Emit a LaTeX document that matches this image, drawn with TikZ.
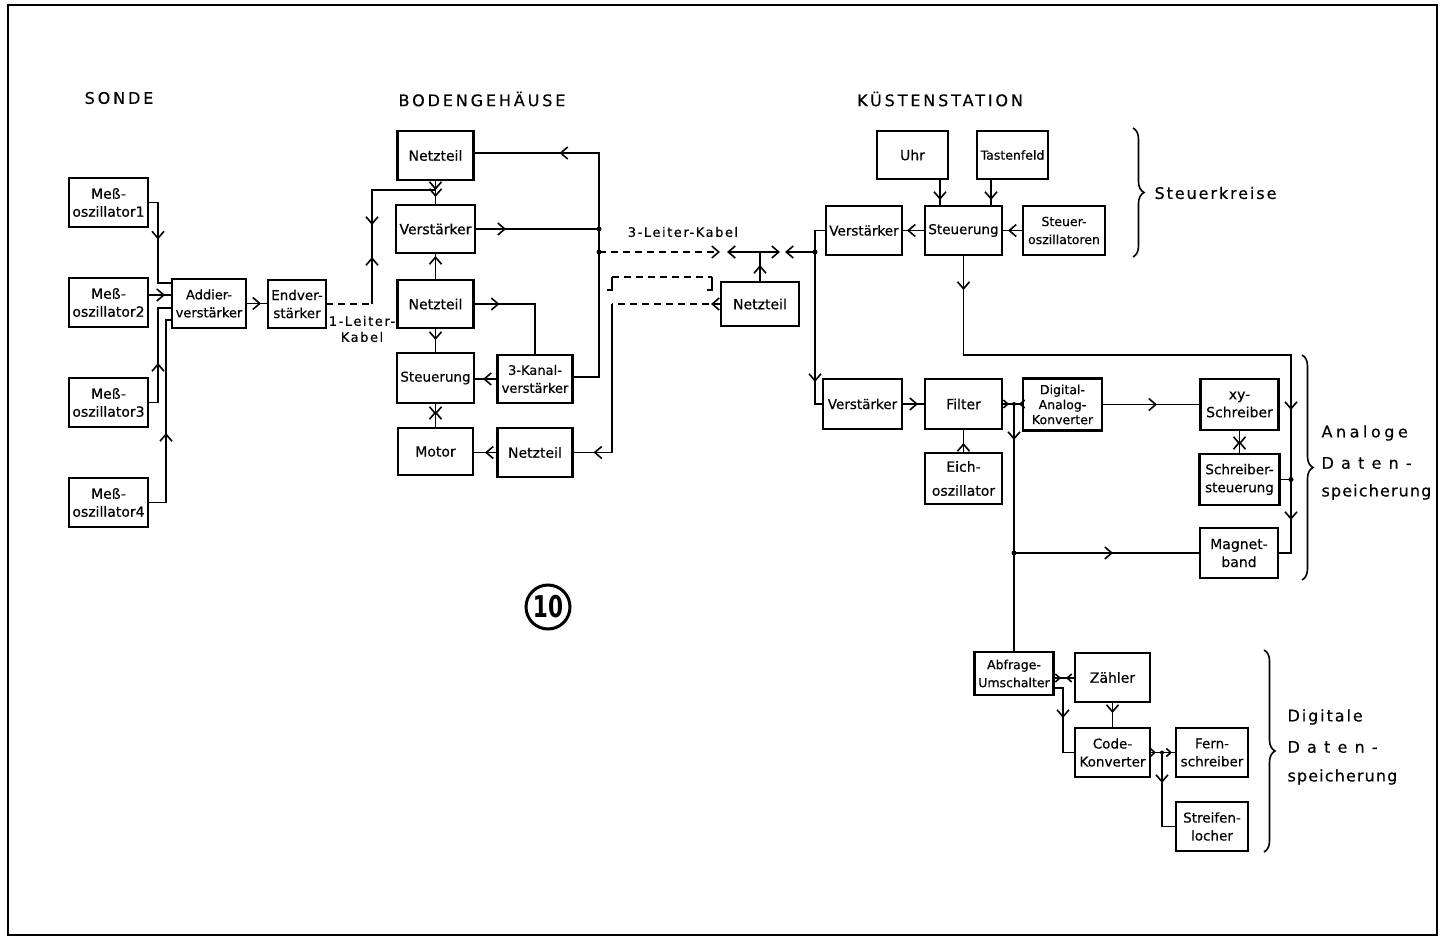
\documentclass[tikz,border=0pt]{standalone}
\usepackage{fontspec}
\usepackage{graphicx}
\setmainfont{DejaVu Sans}
\newfontfamily\bxfont[FakeBold=0.5]{DejaVu Sans}
\newfontfamily\hdrfont[LetterSpace=18,FakeBold=0.4]{DejaVu Sans}
\newfontfamily\labfont[LetterSpace=12,FakeBold=0.4]{DejaVu Sans}
\newfontfamily\labnfont[LetterSpace=7,FakeBold=0.4]{DejaVu Sans}
\newfontfamily\labmfont[LetterSpace=22,FakeBold=0.4]{DejaVu Sans}
\newfontfamily\labwfont[LetterSpace=45,FakeBold=0.4]{DejaVu Sans}
\newfontfamily\cabfont[LetterSpace=12,FakeBold=0.4]{DejaVu Sans}
\newcommand\boxfs[1]{\bxfont\fontsize{#1}{18}\selectfont}
\usetikzlibrary{arrows.meta,decorations.markings,decorations.pathreplacing,calc}
\tikzset{
  >={Straight Barb[length=7pt,width=12pt]},
  box/.style={draw, line width=2.8pt, inner sep=1pt, outer sep=0pt, align=center, font=\boxfs{14}},
  con/.style={line width=1.6pt},
  fw/.style={postaction={decorate,decoration={markings,mark=at position #1 with {\arrow{>}}}}},
  bw/.style={postaction={decorate,decoration={markings,mark=at position #1 with {\arrowreversed{>}}}}},
  fws/.style={postaction={decorate,decoration={markings,mark=at position #1 with {\arrow{Straight Barb[length=4.5pt,width=8pt]}}}}},
  bws/.style={postaction={decorate,decoration={markings,mark=at position #1 with {\arrowreversed{Straight Barb[length=4.5pt,width=8pt]}}}}},
  dsh/.style={dash pattern=on 7pt off 5pt},
  jdot/.style={circle, fill, inner sep=0pt, minimum size=5pt},
  hdr/.style={font=\hdrfont\fontsize{16}{18}\selectfont},
  lab/.style={font=\fontsize{16}{18}\selectfont, anchor=west},
  brc/.style={line width=1.6pt, decorate, decoration={brace, amplitude=11pt}},
}
\newcommand\mybox[7][]{\node[box,#1,minimum width=#5pt,minimum height=#6pt] (#2) at (#3,#4) {#7};}
\begin{document}
\begin{tikzpicture}[x=1pt,y=-1pt]
\useasboundingbox (0,0) rectangle (1443,936);
\draw[line width=2pt] (8,5) rectangle (1437,935);

% headers
\node[hdr] (hS) at (119,98) {SONDE};
\node[hdr] (hB) at (482,99) {BODENGEHÄUSE};
\node[hdr] (hK) at (940,99) {KÜSTENSTATION};

% Sonde
\mybox{o1}{108.5}{202.5}{79}{49}{Meß-\\oszillator1}
\mybox{o2}{108.5}{302.5}{79}{49}{Meß-\\oszillator2}
\mybox{o3}{108.5}{402.5}{79}{49}{Meß-\\oszillator3}
\mybox{o4}{108.5}{502.5}{79}{49}{Meß-\\oszillator4}
\mybox[font=\boxfs{13}]{add}{209}{303.5}{74}{49}{Addier-\\verstärker}
\mybox[font=\boxfs{13.5}]{end}{297}{304}{58}{48}{Endver-\\stärker}

% Bodengehaeuse
\mybox{n1}{435.5}{155.5}{76}{49}{Netzteil}
\mybox{vb}{435.5}{229}{79}{48}{Verstärker}
\mybox{n2}{435.5}{304}{76}{48}{Netzteil}
\mybox[font=\boxfs{13.5}]{stb}{435.5}{378}{77}{50}{Steuerung}
\mybox[font=\boxfs{13}]{k3}{535}{379}{75}{48}{3-Kanal-\\verstärker}
\mybox{mot}{435.5}{451.5}{75}{47}{Motor}
\mybox{n3}{535}{452.5}{75}{49}{Netzteil}
\mybox{n4}{760}{304}{78}{44}{Netzteil}

% Kuestenstation
\mybox{uhr}{912.5}{155}{71}{48}{Uhr}
\mybox[font=\boxfs{12.5}]{tf}{1012.5}{155}{71}{48}{Tastenfeld}
\mybox[font=\boxfs{13.5}]{vk}{864}{230.5}{76}{49}{Verstärker}
\mybox[font=\boxfs{13.5}]{stk}{963.5}{230.5}{77}{49}{Steuerung}
\mybox[font=\boxfs{12.5}]{so}{1064}{230.5}{82}{49}{Steuer-\\oszillatoren}
\mybox[font=\boxfs{13.5}]{v2}{862.5}{404}{79}{50}{Verstärker}
\mybox{fil}{963.5}{404}{77}{50}{Filter}
\node[box,minimum width=79pt,minimum height=52pt,font=\bxfont\fontsize{12.5}{15}\selectfont] (dac) at (1062.5,404.5) {Digital-\\Analog-\\Konverter};
\mybox{eich}{963.5}{478.5}{77}{51}{Eich-\\[6pt]oszillator}
\mybox{xy}{1239.5}{404.5}{78}{51}{xy-\\Schreiber}
\mybox[font=\boxfs{13.5}]{ss}{1239.5}{479.5}{80}{51}{Schreiber-\\steuerung}
\mybox{mb}{1239}{553}{78}{50}{Magnet-\\band}
\mybox[font=\boxfs{12.5}]{ab}{1014}{673.5}{79}{43}{Abfrage-\\Umschalter}
\mybox{zae}{1112.5}{677.5}{75}{49}{Zähler}
\mybox[font=\boxfs{13.5}]{code}{1112.5}{752.5}{75}{49}{Code-\\Konverter}
\mybox[font=\boxfs{13.5}]{fern}{1212}{752.5}{72}{49}{Fern-\\schreiber}
\mybox[font=\boxfs{13.5}]{str}{1212}{826.5}{72}{49}{Streifen-\\locher}

% junction coordinates
\coordinate (jB1) at (599,229);
\coordinate (jB2) at (599,252);
\coordinate (cL1) at (720,252);
\coordinate (cL2) at (727,252);
\coordinate (cR1) at (780,252);
\coordinate (cR2) at (785,252);
\coordinate (jK) at (815,252);
\coordinate (jF) at (1014,404);
\coordinate (jM) at (1014,553);
\coordinate (jS) at (1291,479.5);
\coordinate (jC) at (1162,752.5);

% Sonde connectors
\draw[con,fw=47pt] (o1.east) -- (158,202.5) -- (158,283) -- (add.west |- 0,283);
\draw[con,fw=17pt] (o2.east |- 0,295) -- (add.west |- 0,295);
\draw[con,fw=49.5pt] (o3.east) -- (158,402.5) -- (158,308) -- (add.west |- 0,308);
\draw[con,fw=87.5pt] (o4.east) -- (166,502.5) -- (166,320) -- (add.west |- 0,320);
\draw[con,fw=15pt] (add.east) -- (add.east -| end.west);
\draw[con,dsh] (end.east) -- (372,304);
\draw[con,fw=47pt,bw=79pt,fw=184.5pt] (372,304) -- (372,190) -- (435.5,190) -- (vb.north);
\node[font=\cabfont\fontsize{13}{16}\selectfont, align=center] (l1k) at (362,329) {1-Leiter-\\Kabel};

% Bodengehaeuse connectors
\draw[con,fw=10pt] (n1.south) -- (vb.north);
\draw[con,fw=24pt] (n2.north) -- (vb.south);
\draw[con,fw=31pt] (vb.east) -- (jB1);
\draw[con,fw=290pt] (k3.east |- 0,377) -- (599,377) -- (599,153) -- (n1.east |- 0,153);
\draw[con,fw=26pt] (n2.east) -| (k3.north);
\draw[con,fw=12pt] (n2.south) -- (stb.north);
\draw[con,fw=14.5pt] (k3.west) -- (k3.west -| stb.east);
\draw[con,fw=12pt,bw=8pt] (stb.south) -- (mot.north);
\draw[con,fw=12.5pt] (n3.west) -- (n3.west -| mot.east);
\node[jdot] (d1) at (jB1) {};
\node[jdot] (d2) at (jB2) {};

% cable
\draw[con,dsh,->] (jB2) -- (cL1);
\draw[con,<->] (cL2) -- (cR1);
\draw[con,->] (jK) -- (cR2);
\draw[con,fw=17pt] (n4.north) -- (n4.north |- cL2);
\node[font=\cabfont\fontsize{13}{16}\selectfont] (l3k) at (683,232) {3-Leiter-Kabel};
\draw[con] (607,290) -- (612,290) -- (612,277);
\draw[con,dsh] (612,277) -- (712,277);
\draw[con] (712,277) -- (712,290) -- (707,290);
\draw[con,dsh,fw=10pt] (n4.west) -- (612,304);
\draw[con,fw=167pt] (612,304) |- (n3.east);

% Kuestenstation control
\draw[con,fw=21pt] (uhr.south -| 940,0) -- (stk.north -| 940,0);
\draw[con,fw=21pt] (tf.south -| 991,0) -- (stk.north -| 991,0);
\draw[con,fw=15pt] (so.west) -- (so.west -| stk.east);
\draw[con,fw=18pt] (stk.west) -- (stk.west -| vk.east);
\draw[con] (vk.west) -| (jK);
\draw[con,fw=130pt] (jK) |- (v2.west);
\node[jdot] (d3) at (jK) {};

% analog
\draw[con,fw=16pt] (v2.east) -- (v2.east -| fil.west);
\draw[con,fw=10pt] (eich.north) -- (fil.south);
\draw[con,fws=7pt,bws=17pt] (fil.east) -- (fil.east -| dac.west);
\draw[con,fw=36pt] (jF) -- (ab.north);
\draw[con,fw=99pt] (jM) -- (mb.west);
\draw[con,fw=55pt] (dac.east) -- (dac.east -| xy.west);
\draw[con,fw=15pt,bw=11pt] (xy.south) -- (ss.north);
\draw[con,fw=35pt,fw=482.5pt,fw=592.5pt] (stk.south) |- (1291,355) |- (mb.east);
\draw[con] (ss.east) -- (jS);
\node[jdot,minimum size=4pt] (d4) at (jF) {};
\node[jdot] (d5) at (jM) {};
\node[jdot] (d6) at (jS) {};

% digital
\draw[con,fws=7.5pt,bws=12.5pt] (ab.east |- 0,678) -- (zae.west |- 0,678);
\draw[con,fw=39.5pt] (ab.east |- 0,688) -- (1063,688) |- (code.west);
\draw[con,fw=11pt] (zae.south) -- (code.north);
\draw[con,fws=6pt,fws=22pt] (code.east) -- (code.east -| fern.west);
\draw[con,fw=30.5pt] (jC) |- (str.west);
\node[jdot,minimum size=4pt] (d7) at (jC) {};

% braces and labels
\draw[brc] (1133,128) -- (1133,257);
\node[lab] (t1) at (1151,193) {\labfont Steuerkreise};
\draw[brc] (1302,355) -- (1302,580);
\node[lab] (t2) at (1318,433) {\labmfont Analoge};
\node[lab] (t3) at (1318,463) {\labwfont Daten-};
\node[lab] (t4) at (1318,492) {\labnfont speicherung};
\draw[brc] (1264,650) -- (1264,852);
\node[lab] (t5) at (1284,717) {\labfont Digitale};
\node[lab] (t6) at (1284,747) {\labwfont Daten-};
\node[lab] (t7) at (1284,777) {\labnfont speicherung};

% figure number
\node[circle, draw, line width=3pt, minimum size=44pt, inner sep=0pt] (ten) at (548,607) {\scalebox{0.72}[1]{\fontsize{30}{30}\selectfont\bfseries 10}};
\end{tikzpicture}
\end{document}
